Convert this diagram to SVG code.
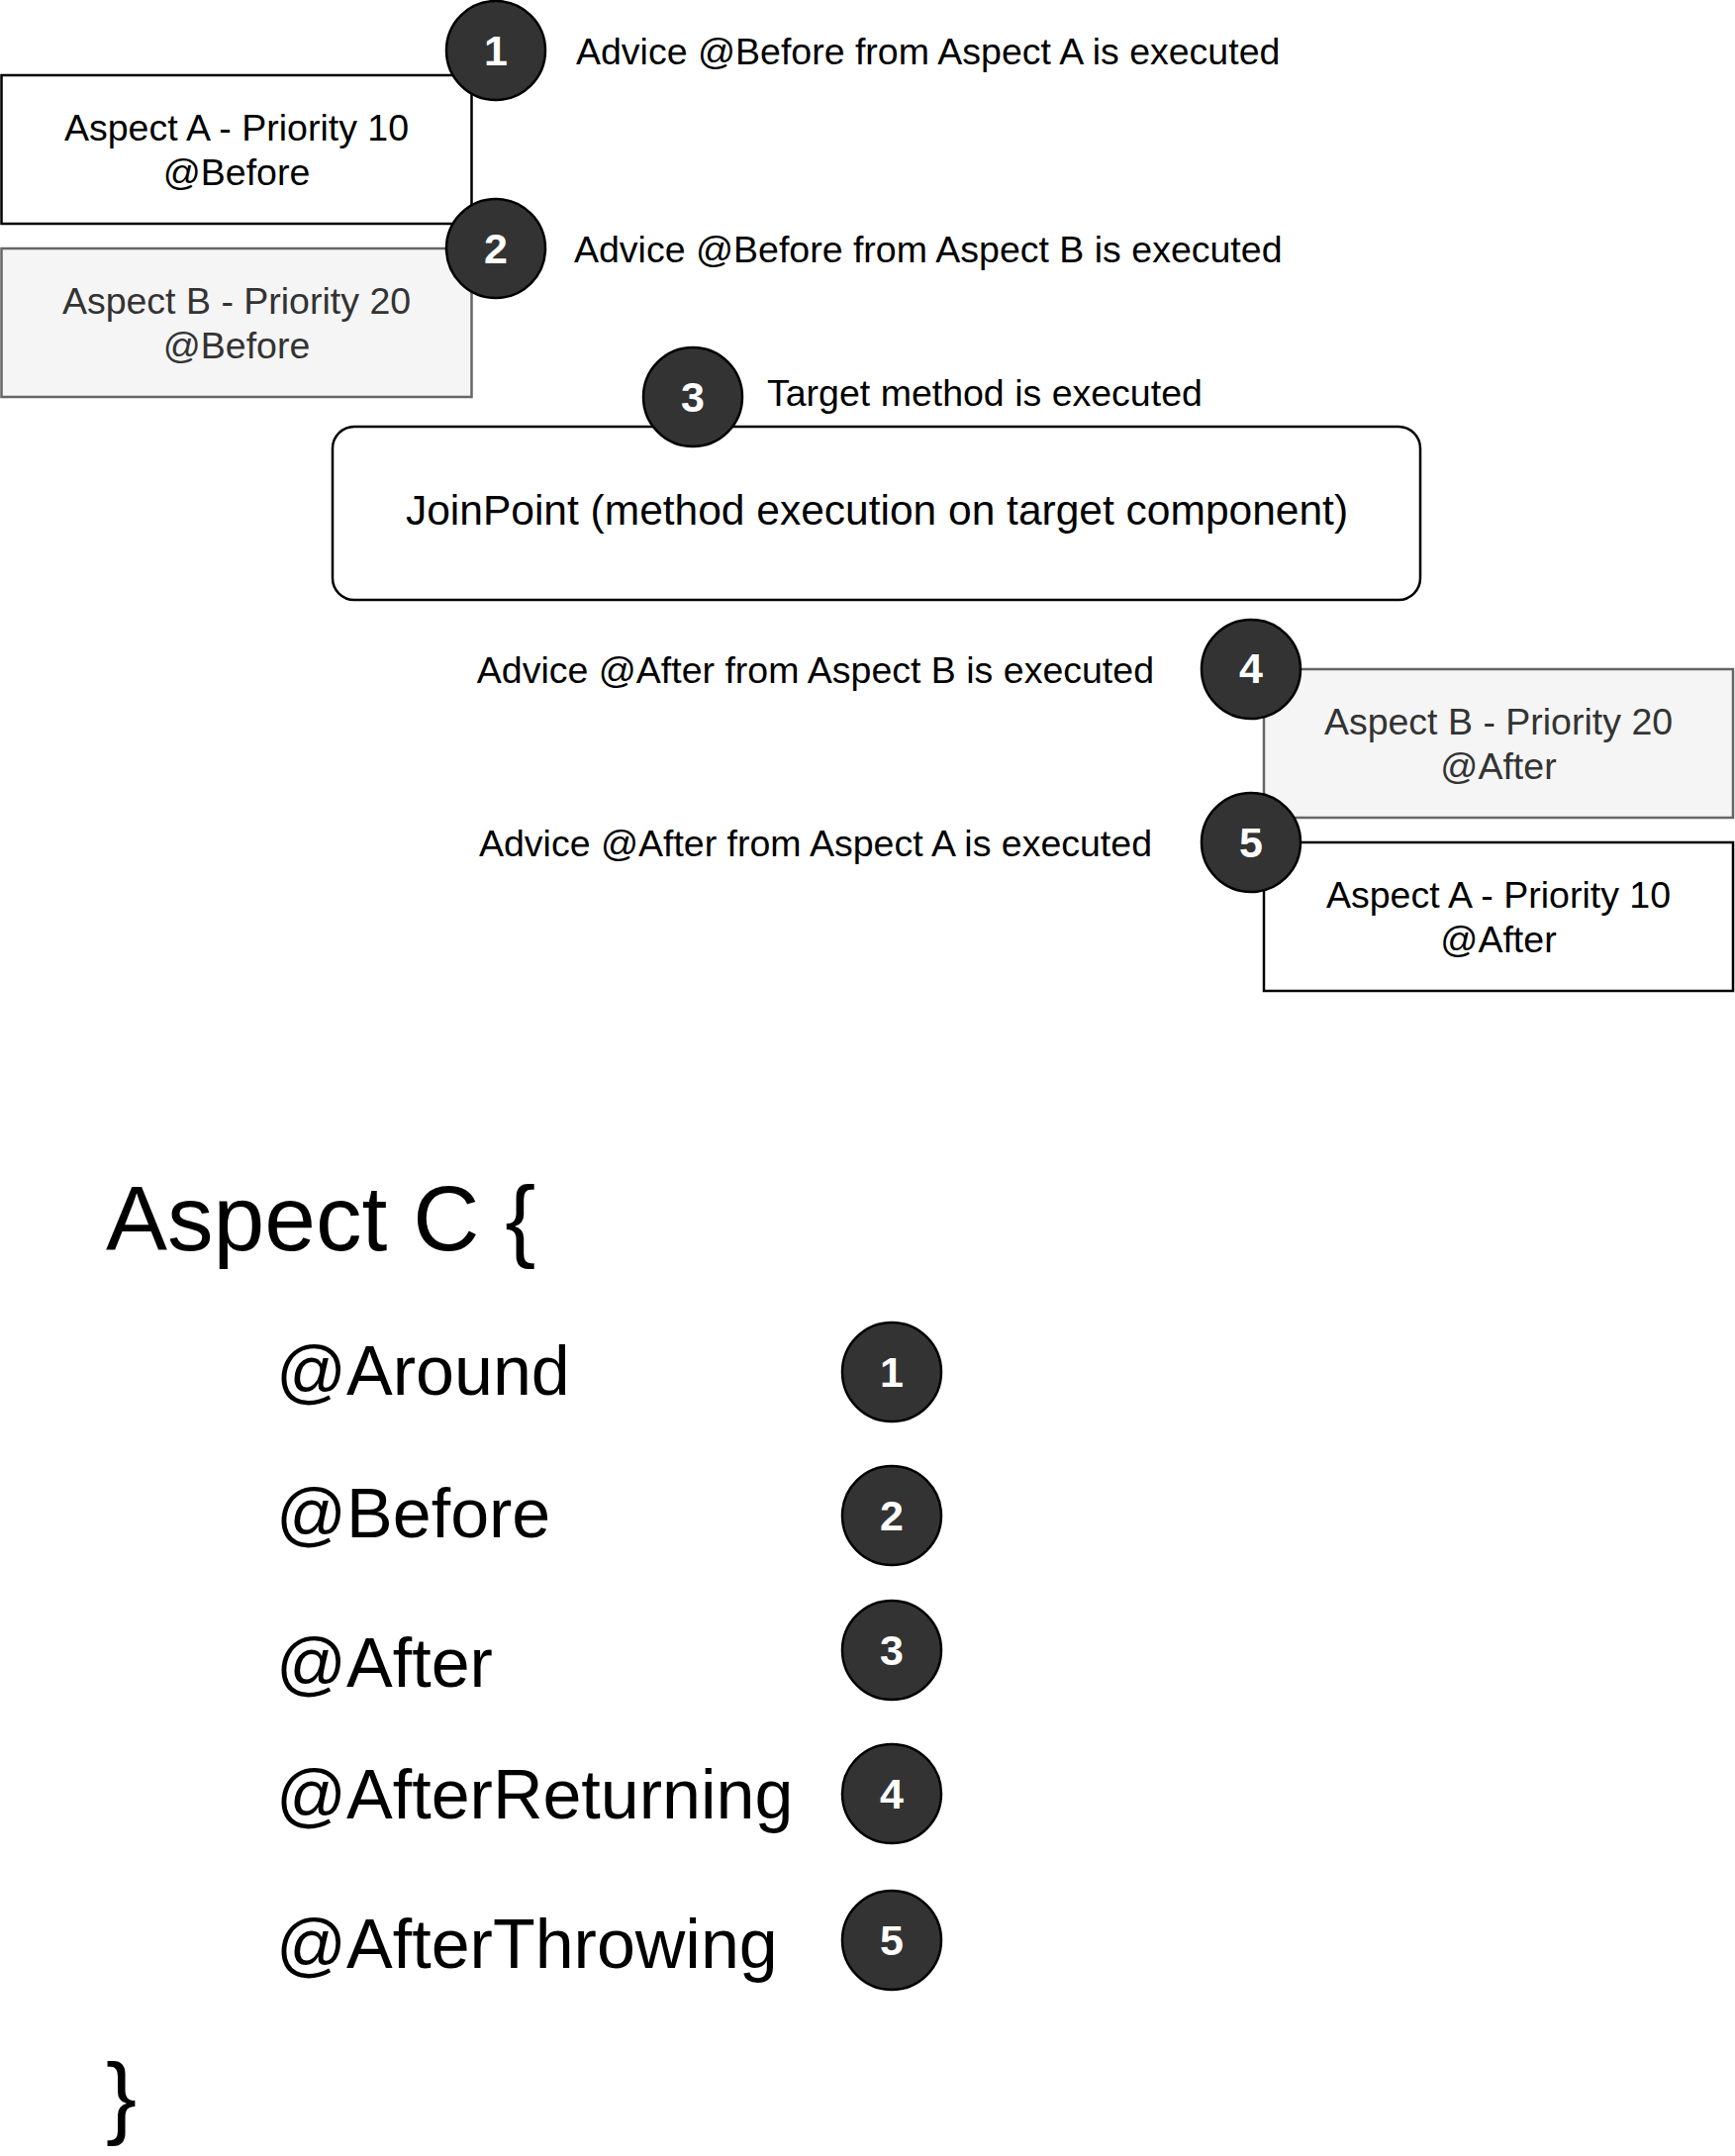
<svg xmlns="http://www.w3.org/2000/svg" width="1753" height="2178" viewBox="0 0 1753 2178">
<style>
text{font-family:"Liberation Sans",Arial,sans-serif}
.box{fill:#ffffff;stroke:#000000;stroke-width:2.5}
.boxg{fill:#f5f5f5;stroke:#666666;stroke-width:2.5}
.bt{font-size:37.5px;fill:#000000;text-anchor:middle}
.btg{font-size:37.5px;fill:#333333;text-anchor:middle}
.lbl{font-size:37.5px;fill:#000000}
.num{fill:#333333;stroke:#000000;stroke-width:2.5}
.nt{font-size:43px;font-weight:bold;fill:#ffffff;text-anchor:middle}
.code{font-size:70px;fill:#000000}
.big{font-size:93px;fill:#000000}
</style>
<rect x="0" y="0" width="1753" height="2178" fill="#ffffff"/>
<g id="aspectA-before">
<rect class="box" x="1.5" y="76" width="475" height="150"/>
<text class="bt" x="239" y="142">Aspect A - Priority 10</text>
<text class="bt" x="239" y="187">@Before</text>
</g>
<g id="aspectB-before">
<rect class="boxg" x="1.5" y="251" width="475" height="150"/>
<text class="btg" x="239" y="317">Aspect B - Priority 20</text>
<text class="btg" x="239" y="362">@Before</text>
</g>
<g id="joinpoint">
<rect class="box" x="336" y="431" width="1099" height="175" rx="22" ry="22"/>
<text x="886" y="530" style="font-size:42.5px;fill:#000;text-anchor:middle">JoinPoint (method execution on target component)</text>
</g>
<g id="aspectB-after">
<rect class="boxg" x="1277" y="676" width="474" height="150"/>
<text class="btg" x="1514" y="742">Aspect B - Priority 20</text>
<text class="btg" x="1514" y="787">@After</text>
</g>
<g id="aspectA-after">
<rect class="box" x="1277" y="851" width="474" height="150"/>
<text class="bt" x="1514" y="917">Aspect A - Priority 10</text>
<text class="bt" x="1514" y="962">@After</text>
</g>
<g id="step1">
<circle class="num" cx="501" cy="51" r="50"/>
<text class="nt" x="501" y="66">1</text>
<text class="lbl" x="582" y="65">Advice @Before from Aspect A is executed</text>
</g>
<g id="step2">
<circle class="num" cx="501" cy="251" r="50"/>
<text class="nt" x="501" y="266">2</text>
<text class="lbl" x="580" y="265">Advice @Before from Aspect B is executed</text>
</g>
<g id="step3">
<circle class="num" cx="700" cy="401" r="50"/>
<text class="nt" x="700" y="416">3</text>
<text class="lbl" x="775" y="410">Target method is executed</text>
</g>
<g id="step4">
<circle class="num" cx="1264" cy="676" r="50"/>
<text class="nt" x="1264" y="690">4</text>
<text class="lbl" x="1166" y="690" text-anchor="end">Advice @After from Aspect B is executed</text>
</g>
<g id="step5">
<circle class="num" cx="1264" cy="851" r="50"/>
<text class="nt" x="1264" y="866">5</text>
<text class="lbl" x="1164" y="865" text-anchor="end">Advice @After from Aspect A is executed</text>
</g>
<g id="connectors"></g>
<g id="aspectC">
<text class="big" x="107" y="1263">Aspect C {</text>
<text class="code" x="279" y="1409">@Around</text>
<text class="code" x="279" y="1553">@Before</text>
<text class="code" x="279" y="1704">@After</text>
<text class="code" x="279" y="1837">@AfterReturning</text>
<text class="code" x="279" y="1988">@AfterThrowing</text>
<text class="big" x="107" y="2149">}</text>
</g>
<g id="legend1"><circle class="num" cx="901" cy="1386" r="50"/><text class="nt" x="901" y="1401">1</text></g>
<g id="legend2"><circle class="num" cx="901" cy="1531" r="50"/><text class="nt" x="901" y="1546">2</text></g>
<g id="legend3"><circle class="num" cx="901" cy="1667" r="50"/><text class="nt" x="901" y="1682">3</text></g>
<g id="legend4"><circle class="num" cx="901" cy="1812" r="50"/><text class="nt" x="901" y="1827">4</text></g>
<g id="legend5"><circle class="num" cx="901" cy="1960" r="50"/><text class="nt" x="901" y="1975">5</text></g>
</svg>
